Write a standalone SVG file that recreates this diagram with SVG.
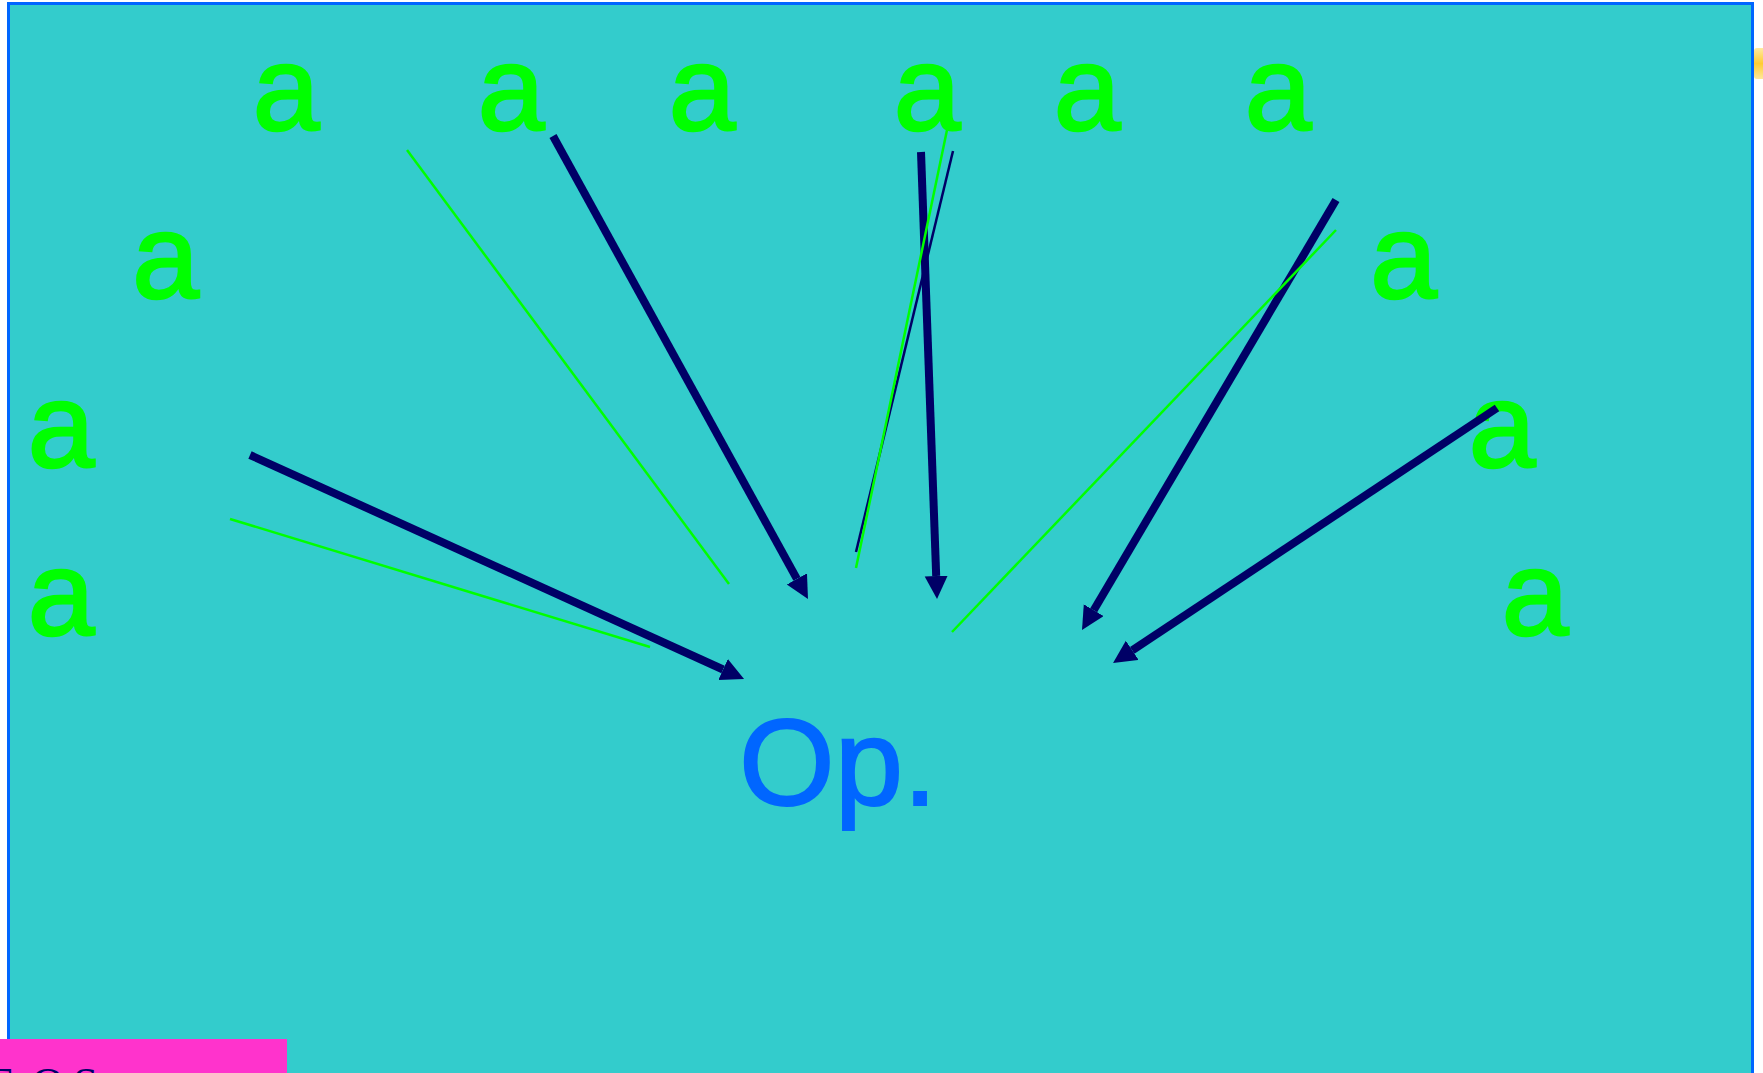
<svg xmlns="http://www.w3.org/2000/svg" width="1763" height="1073" viewBox="0 0 1763 1073">
  <defs>
    <style>
      .leaf { font-family: "Liberation Sans", Arial, sans-serif; font-size: 120px; fill: #00ff00; stroke: #00ff00; stroke-width: 2.5; text-anchor: middle; }
      .op { font-family: "Liberation Sans", Arial, sans-serif; font-size: 123px; fill: #0066ff; stroke: #0066ff; stroke-width: 2; }
      .arrow { fill: none; stroke: #000066; stroke-width: 8; marker-end: url(#head); }
      .thin-navy { fill: none; stroke: #000066; stroke-width: 2.5; }
      .thin-green { fill: none; stroke: #00ff00; stroke-width: 2.5; }
      .caption { font-family: "Liberation Serif", "Times New Roman", serif; font-size: 45px; fill: #000066; }
    </style>
    <marker id="head" markerUnits="userSpaceOnUse" markerWidth="24" markerHeight="24" refX="0" refY="11.5" orient="auto">
      <path d="M0,0 L23,11.5 L0,23 Z" fill="#000066"/>
    </marker>
    <linearGradient id="gold" x1="0" y1="0" x2="0" y2="1">
      <stop offset="0" stop-color="#ffeaa0"/>
      <stop offset="0.5" stop-color="#ffcc33"/>
      <stop offset="1" stop-color="#ffe89a"/>
    </linearGradient>
  </defs>

  <!-- canvas -->
  <rect id="canvas" x="8.5" y="3.5" width="1744" height="1100" fill="#33cccc" stroke="#0066ff" stroke-width="3"/>
  <rect id="tab" x="1754" y="48" width="30" height="31" rx="3" fill="url(#gold)"/>

  <!-- operand nodes -->
  <g id="n-top1"><text class="leaf" x="286" y="130">a</text></g>
  <g id="n-top2"><text class="leaf" x="511" y="130">a</text></g>
  <g id="n-top3"><text class="leaf" x="702" y="130">a</text></g>
  <g id="n-top4"><text class="leaf" x="927" y="130">a</text></g>
  <g id="n-top5"><text class="leaf" x="1087" y="130">a</text></g>
  <g id="n-top6"><text class="leaf" x="1278" y="130">a</text></g>
  <g id="n-left1"><text class="leaf" x="165.5" y="298">a</text></g>
  <g id="n-left2"><text class="leaf" x="61" y="467">a</text></g>
  <g id="n-left3"><text class="leaf" x="61" y="635">a</text></g>
  <g id="n-right1"><text class="leaf" x="1403.5" y="298">a</text></g>
  <g id="n-right2"><text class="leaf" x="1502" y="467">a</text></g>
  <g id="n-right3"><text class="leaf" x="1535" y="635">a</text></g>

  <!-- operator node -->
  <g id="n-op"><text class="op" x="739" y="805">Op.</text></g>

  <!-- connectors -->
  <g id="connectors">
    <path class="arrow" d="M250,455 L723.1,669.5"/>
    <path class="arrow" d="M553,136 L796.9,578.9"/>
    <path class="arrow" d="M921,152 L936.2,576"/>
    <path class="arrow" d="M1336,200 L1093.7,610.2"/>
    <path class="arrow" d="M1497,408 L1132.2,650.3"/>
    <path class="thin-navy" d="M953,151 L856,552"/>
    <path class="thin-green" d="M230,519 L650,647"/>
    <path class="thin-green" d="M407,150 L729,584"/>
    <path class="thin-green" d="M947,130 L856,568"/>
    <path class="thin-green" d="M1336,230 L952,632"/>
  </g>

  <!-- legend strip -->
  <g id="legend">
    <rect x="-2" y="1039" width="289" height="60" fill="#ff33cc"/>
    <text class="caption" y="1098"><tspan x="-12.5">E</tspan><tspan x="31.5">O</tspan><tspan x="73">S</tspan></text>
  </g>
</svg>
